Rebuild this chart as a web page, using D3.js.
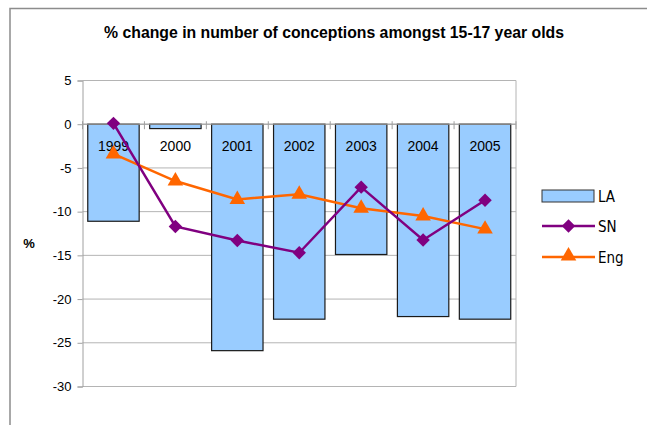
<html>
<head>
<meta charset="utf-8">
<script src="https://d3js.org/d3.v7.min.js"></script>
<style>
  body { margin: 0; background: #fff; font-family: "Liberation Sans", Arial, sans-serif; }
</style>
</head>
<body>
<svg id="chart" width="647" height="425"></svg>
<script>
const years = ["1999", "2000", "2001", "2002", "2003", "2004", "2005"];
const laValues = [-11.1, -0.5, -25.9, -22.3, -14.9, -22.0, -22.3];
const snValues = [0.1, -11.7, -13.3, -14.7, -7.2, -13.25, -8.7];
const engValues = [-3.4, -6.5, -8.6, -8.0, -9.6, -10.5, -12.0];
const yTicks = [5, 0, -5, -10, -15, -20, -25, -30];

const svg = d3.select("#chart");
const margin = { top: 80.5, left: 82.5, right: 131, bottom: 38.5 };
const width = 647, height = 425;

// outer chart frame
svg.append("rect")
    .attr("x", 10).attr("y", 8.5)
    .attr("width", 660).attr("height", 440)
    .attr("fill", "none").attr("stroke", "#8c8c8c").attr("stroke-width", 1.5);

svg.append("text")
    .attr("x", 334).attr("y", 37.5)
    .attr("text-anchor", "middle")
    .style("font-size", "15.8px").style("font-weight", "bold")
    .text("% change in number of conceptions amongst 15-17 year olds");

const x = d3.scaleBand().domain(years)
    .range([margin.left, width - margin.right])
    .paddingInner(0.17).paddingOuter(0.085);
const y = d3.scaleLinear().domain([-30, 5]).range([height - margin.bottom, margin.top]);

// gridlines
svg.append("g").selectAll("line").data(yTicks).join("line")
    .attr("x1", margin.left).attr("x2", width - margin.right)
    .attr("y1", d => y(d)).attr("y2", d => y(d))
    .attr("stroke", "#b4b4b4").attr("stroke-width", 1);

// plot area right edge
svg.append("line")
    .attr("x1", width - margin.right).attr("x2", width - margin.right)
    .attr("y1", y(5)).attr("y2", y(-30))
    .attr("stroke", "#b4b4b4");

// y axis
const yAxis = svg.append("g")
    .attr("transform", `translate(${margin.left},0)`)
    .call(d3.axisLeft(y).tickValues(yTicks).tickFormat(d => String(d)).tickSize(5).tickPadding(6));
yAxis.select(".domain").attr("stroke", "#a0a0a0");
yAxis.selectAll(".tick line").attr("stroke", "#a0a0a0");
yAxis.selectAll(".tick text")
    .style("font-size", "13px").style("font-family", "Liberation Sans, Arial, sans-serif")
    .attr("fill", "#000");

svg.append("text")
    .attr("x", 29).attr("y", 248)
    .attr("text-anchor", "middle")
    .style("font-size", "13px").style("font-weight", "bold")
    .text("%");

// LA bars
svg.append("g").selectAll("rect").data(years).join("rect")
    .attr("x", d => x(d))
    .attr("width", x.bandwidth())
    .attr("y", (d, i) => Math.min(y(0), y(laValues[i])))
    .attr("height", (d, i) => Math.abs(y(laValues[i]) - y(0)))
    .attr("fill", "#99ccff")
    .attr("stroke", "#1a1a1a").attr("stroke-width", 1.2);

// category axis on zero line
const zero = y(0);
svg.append("line")
    .attr("x1", margin.left).attr("x2", width - margin.right)
    .attr("y1", zero).attr("y2", zero)
    .attr("stroke", "#a0a0a0");
const step = x.step();
svg.append("g").selectAll("line").data(d3.range(years.length + 1)).join("line")
    .attr("x1", i => margin.left + i * step).attr("x2", i => margin.left + i * step)
    .attr("y1", zero - 3).attr("y2", zero + 5)
    .attr("stroke", "#a0a0a0");

svg.append("g").selectAll("text").data(years).join("text")
    .attr("x", d => x(d) + x.bandwidth() / 2)
    .attr("y", zero + 26.5)
    .attr("text-anchor", "middle")
    .style("font-size", "14px")
    .text(d => d);

const cx = d => x(d) + x.bandwidth() / 2;

// England line
svg.append("path")
    .datum(years)
    .attr("fill", "none").attr("stroke", "#ff6600").attr("stroke-width", 2.5)
    .attr("d", d3.line().x(cx).y((d, i) => y(engValues[i])));

// SN line
svg.append("path")
    .datum(years)
    .attr("fill", "none").attr("stroke", "#800080").attr("stroke-width", 2.5)
    .attr("d", d3.line().x(cx).y((d, i) => y(snValues[i])));

const diamond = d3.symbol().type(d3.symbolSquare).size(90);
const triangle = d3.symbol().type(d3.symbolTriangle).size(105);

svg.append("g").selectAll("path").data(years).join("path")
    .attr("d", triangle)
    .attr("transform", (d, i) => `translate(${cx(d)},${y(engValues[i])})`)
    .attr("fill", "#ff6600");

svg.append("g").selectAll("path").data(years).join("path")
    .attr("d", diamond)
    .attr("transform", (d, i) => `translate(${cx(d)},${y(snValues[i])}) rotate(45)`)
    .attr("fill", "#800080");

// legend
const legend = svg.append("g").attr("transform", "translate(542,196)");
legend.append("rect")
    .attr("x", 0).attr("y", -6).attr("width", 52).attr("height", 12)
    .attr("fill", "#99ccff").attr("stroke", "#333");
legend.append("line")
    .attr("x1", 0).attr("x2", 53).attr("y1", 30).attr("y2", 30)
    .attr("stroke", "#800080").attr("stroke-width", 2.5);
legend.append("path").attr("d", diamond)
    .attr("transform", "translate(26.5,30) rotate(45)").attr("fill", "#800080");
legend.append("line")
    .attr("x1", 0).attr("x2", 53).attr("y1", 61).attr("y2", 61)
    .attr("stroke", "#ff6600").attr("stroke-width", 2.5);
legend.append("path").attr("d", triangle)
    .attr("transform", "translate(26.5,60)").attr("fill", "#ff6600");
legend.selectAll("text").data(["LA", "SN", "Eng"]).join("text")
    .attr("x", 56).attr("y", (d, i) => i * 30.7 + 5.5)
    .style("font-size", "15px").style("font-family", "DejaVu Sans Condensed, sans-serif")
    .text(d => d);
</script>
</body>
</html>
